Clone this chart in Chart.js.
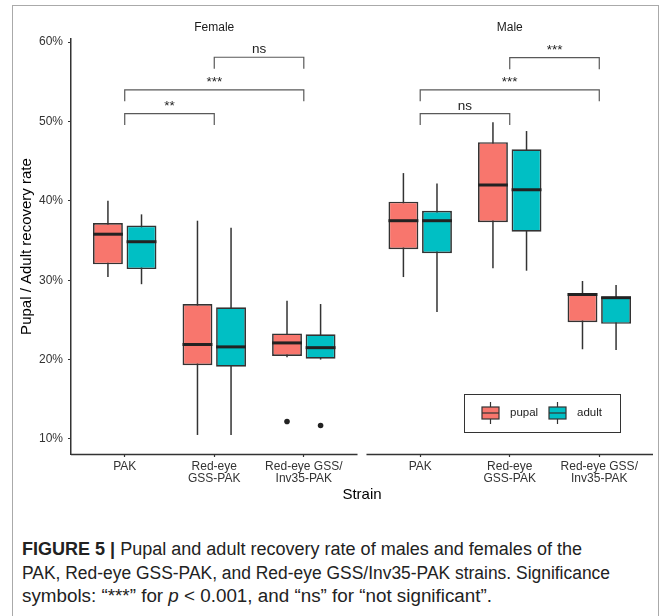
<!DOCTYPE html>
<html>
<head>
<meta charset="utf-8">
<script src="https://cdn.jsdelivr.net/npm/chart.js@4.4.1/dist/chart.umd.min.js"></script>
<style>
  html, body { margin: 0; padding: 0; background: #fff; }
  body { width: 663px; height: 616px; position: relative; overflow: hidden; }
  #frame { position: absolute; left: 12px; top: 5px; width: 647px; height: 640px;
           border: 1.5px solid #aaa; box-sizing: border-box; }
  #wrap { position: absolute; left: 0; top: 0; width: 663px; height: 504px; }
  #caption { position: absolute; left: 22px; top: 538px; width: 640px;
             font-family: 'Liberation Sans', Arial, sans-serif;
             font-size: 18px; line-height: 23.5px; color: #222; }
  #caption div { white-space: nowrap; transform-origin: 0 50%; width: max-content; }
  #caption b { font-weight: bold; }
</style>
</head>
<body>
<div id="frame"></div>
<div id="wrap"><canvas id="boxChart" width="663" height="504"></canvas></div>
<div id="caption">
  <div data-w="560"><b>FIGURE 5 |</b> Pupal and adult recovery rate of males and females of the</div>
  <div data-w="588">PAK, Red-eye GSS-PAK, and Red-eye GSS/Inv35-PAK strains. Significance</div>
  <div data-w="470">symbols: “***” for <i>p</i> &lt; 0.001, and “ns” for “not significant”.</div>
</div>
<script>
// facets and strains
const panels = ['Female', 'Male'];
const strains = ['PAK', ['Red-eye', 'GSS-PAK'], ['Red-eye GSS/', 'Inv35-PAK']];
// x position of each strain group (Female PAK, GSS, Inv35, Male PAK, GSS, Inv35)
const groupX = [0, 1, 2, 3.3, 4.3, 5.3];
const yTicks = [10, 20, 30, 40, 50, 60];

// pupal recovery (%)
const pupalMin    = [30.4, 10.5, 20.3, 30.4, 31.5, 21.3];
const pupalQ1     = [32.0, 19.3, 20.45, 33.9, 37.3, 24.7];
const pupalMedian = [35.8, 21.9, 22.1, 37.5, 42.0, 28.2];
const pupalQ3     = [37.2, 27.0, 23.3, 39.9, 47.4, 28.4];
const pupalMax    = [40.0, 37.5, 27.4, 43.5, 49.9, 29.9];
const pupalOut    = [[], [], [12.2], [], [], []];

// adult recovery (%)
const adultMin    = [29.5, 10.5, 20.0, 26.0, 31.2, 21.2];
const adultQ1     = [31.4, 19.1, 20.1, 33.4, 36.1, 24.5];
const adultMedian = [34.85, 21.6, 21.5, 37.5, 41.4, 27.8];
const adultQ3     = [36.9, 26.6, 23.2, 38.75, 46.5, 27.9];
const adultMax    = [38.3, 36.6, 27.0, 42.2, 48.8, 29.4];
const adultOut    = [[], [], [11.7], [], [], []];

// significance brackets (group indices)
const bracketFrom  = [1, 0, 0, 4, 3, 3];
const bracketTo    = [2, 2, 1, 5, 5, 4];
const bracketY     = [58.1, 54.0, 51.0, 58.05, 54.0, 51.0];
const bracketLabel = ['ns', '***', '**', '***', '***', 'ns'];
const bracketTip = 1.45;

const series = [
  { label: 'pupal', color: '#F8766D', min: pupalMin, q1: pupalQ1, med: pupalMedian, q3: pupalQ3, max: pupalMax, out: pupalOut },
  { label: 'adult', color: '#00BFC4', min: adultMin, q1: adultQ1, med: adultMedian, q3: adultQ3, max: adultMax, out: adultOut }
];

// squeeze caption lines like the condensed journal font
document.querySelectorAll('#caption div').forEach(d => {
  const k = Number(d.dataset.w) / d.getBoundingClientRect().width;
  d.style.transform = 'scaleX(' + k + ')';
});

Chart.defaults.font.family = "'Liberation Sans', Arial, sans-serif";
const LINE = '#333333';

const boxPlugin = {
  id: 'boxParts',
  beforeDatasetsDraw(chart) {
    const ctx = chart.ctx, y = chart.scales.y;
    ctx.save();
    ctx.strokeStyle = LINE;
    ctx.lineWidth = 1.5;
    series.forEach((s, di) => {
      chart.getDatasetMeta(di).data.forEach((bar, i) => {
        const { x } = bar.getProps(['x'], true);
        ctx.beginPath();
        ctx.moveTo(x, y.getPixelForValue(s.min[i]));
        ctx.lineTo(x, y.getPixelForValue(s.max[i]));
        ctx.stroke();
      });
    });
    ctx.restore();
  },
  afterDatasetsDraw(chart) {
    const ctx = chart.ctx, xs = chart.scales.x, y = chart.scales.y, area = chart.chartArea;
    ctx.save();
    // medians and outliers
    series.forEach((s, di) => {
      chart.getDatasetMeta(di).data.forEach((bar, i) => {
        const { x, width } = bar.getProps(['x', 'width'], true);
        const my = y.getPixelForValue(s.med[i]);
        ctx.strokeStyle = '#222';
        ctx.lineWidth = 3;
        ctx.beginPath();
        ctx.moveTo(x - width / 2, my);
        ctx.lineTo(x + width / 2, my);
        ctx.stroke();
        ctx.fillStyle = '#222';
        s.out[i].forEach(v => {
          ctx.beginPath();
          ctx.arc(x, y.getPixelForValue(v), 2.8, 0, Math.PI * 2);
          ctx.fill();
        });
      });
    });

    // x axis lines, one per panel
    ctx.strokeStyle = LINE;
    ctx.lineWidth = 1.5;
    [[-0.6, 2.6], [2.7, 5.9]].forEach(([a, b]) => {
      ctx.beginPath();
      ctx.moveTo(xs.getPixelForValue(a), area.bottom + 0.5);
      ctx.lineTo(xs.getPixelForValue(b), area.bottom + 0.5);
      ctx.stroke();
    });

    // strip labels
    ctx.fillStyle = '#1a1a1a';
    ctx.font = "12px 'Liberation Sans', Arial, sans-serif";
    ctx.textAlign = 'center';
    ctx.textBaseline = 'middle';
    panels.forEach((p, k) => ctx.fillText(p, xs.getPixelForValue(groupX[k * 3 + 1]), 28));

    // significance brackets
    ctx.strokeStyle = '#595959';
    ctx.lineWidth = 1.2;
    bracketY.forEach((v, k) => {
      const x1 = xs.getPixelForValue(groupX[bracketFrom[k]]);
      const x2 = xs.getPixelForValue(groupX[bracketTo[k]]);
      const yt = y.getPixelForValue(v), yb = y.getPixelForValue(v - bracketTip);
      ctx.beginPath();
      ctx.moveTo(x1, yb);
      ctx.lineTo(x1, yt);
      ctx.lineTo(x2, yt);
      ctx.lineTo(x2, yb);
      ctx.stroke();
      ctx.fillStyle = '#222';
      ctx.font = "13.5px 'Liberation Sans', Arial, sans-serif";
      ctx.textBaseline = 'alphabetic';
      ctx.fillText(bracketLabel[k], (x1 + x2) / 2, yt - 4);
    });

    // legend
    const lx = area.right - 189, ly = area.bottom - 60, lw = 156, lh = 38;
    ctx.strokeStyle = LINE;
    ctx.lineWidth = 1;
    ctx.strokeRect(lx + 0.5, ly + 0.5, lw, lh);
    const cy = ly + lh / 2;
    const keyX = [lx + 18, lx + 85];
    series.forEach((s, k) => {
      const kx = keyX[k];
      ctx.strokeStyle = LINE;
      ctx.lineWidth = 1.2;
      ctx.beginPath();
      ctx.moveTo(kx + 8.5, cy - 11);
      ctx.lineTo(kx + 8.5, cy + 11);
      ctx.stroke();
      ctx.fillStyle = s.color;
      ctx.fillRect(kx, cy - 6, 17, 12);
      ctx.strokeRect(kx, cy - 6, 17, 12);
      ctx.beginPath();
      ctx.moveTo(kx, cy);
      ctx.lineTo(kx + 17, cy);
      ctx.stroke();
      ctx.fillStyle = '#222';
      ctx.font = "11.5px 'Liberation Sans', Arial, sans-serif";
      ctx.textAlign = 'left';
      ctx.textBaseline = 'middle';
      ctx.fillText(s.label, kx + 28, cy);
    });
    ctx.restore();
  }
};

new Chart(document.getElementById('boxChart').getContext('2d'), {
  type: 'bar',
  data: {
    datasets: series.map(s => ({
      label: s.label,
      data: groupX.map((gx, i) => ({ x: gx, y: [s.q1[i], s.q3[i]] })),
      backgroundColor: s.color,
      borderColor: LINE,
      borderWidth: 1.7,
      borderSkipped: false,
      categoryPercentage: 0.75,
      barPercentage: 0.89
    }))
  },
  options: {
    responsive: false,
    animation: false,
    layout: { padding: { left: 18, right: 10, top: 39, bottom: 0 } },
    plugins: { legend: { display: false }, tooltip: { enabled: false } },
    scales: {
      x: {
        type: 'linear',
        min: -0.6,
        max: 5.9,
        offset: false,
        afterBuildTicks: scale => { scale.ticks = groupX.map(v => ({ value: v })); },
        afterFit: scale => { scale.height = 50; },
        ticks: {
          autoSkip: false,
          maxRotation: 0,
          padding: 4,
          color: '#333',
          font: { size: 12, lineHeight: 1.0 },
          callback: (v, i) => strains[i % 3]
        },
        grid: { offset: false, drawOnChartArea: false, drawTicks: true, tickLength: 3, color: LINE, tickWidth: 1.2 },
        border: { display: false },
        title: { display: true, text: 'Strain', color: '#000', font: { size: 15 }, padding: 0 }
      },
      y: {
        min: 8.1,
        max: 60.4,
        afterBuildTicks: scale => { scale.ticks = yTicks.map(v => ({ value: v })); },
        afterFit: scale => { scale.width = 53; },
        ticks: { color: '#333', font: { size: 12 }, padding: 5, callback: v => v + '%' },
        grid: { drawOnChartArea: false, drawTicks: true, tickLength: 3, color: LINE, tickWidth: 1.2 },
        border: { display: true, color: LINE, width: 1.5 },
        title: { display: true, text: 'Pupal / Adult recovery rate', color: '#000', font: { size: 15 }, padding: 0 }
      }
    }
  },
  plugins: [boxPlugin]
});
</script>
</body>
</html>
